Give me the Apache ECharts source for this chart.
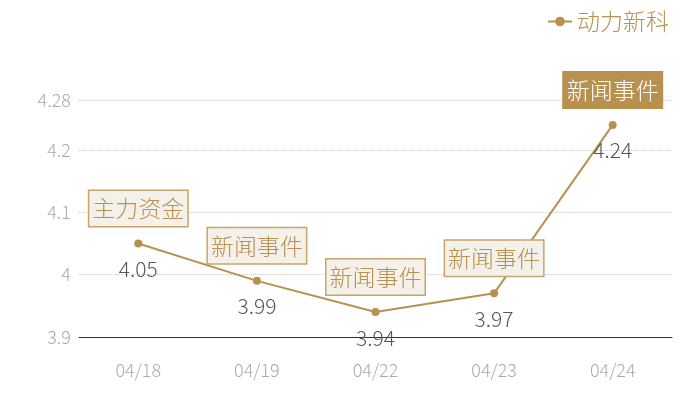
<!DOCTYPE html>
<html>
<head>
<meta charset="utf-8">
<script src="https://cdn.jsdelivr.net/npm/echarts@6/dist/echarts.min.js"></script>
<style>
    html, body { margin: 0; padding: 0; background: #fff; }
    #chart { width: 700px; height: 400px; }
</style>
</head>
<body>
<div id="chart"></div>
<script>
    var dates = ['04/18', '04/19', '04/22', '04/23', '04/24'];
    var prices = [4.05, 3.99, 3.94, 3.97, 4.24];
    var events = ['主力资金', '新闻事件', '新闻事件', '新闻事件', '新闻事件'];

    var gold = '#b8914f';
    var font = 'Noto Sans CJK SC';

    var markData = events.map(function(name, i) {
        var item = {
            name: name,
            coord: [i, prices[i]]
        };
        if (i === events.length - 1) {
            item.label = {
                color: '#fff',
                backgroundColor: gold,
                borderColor: gold
            };
        }
        return item;
    });

    var chart = echarts.init(document.getElementById('chart'));
    chart.setOption({
        animation: false,
        textStyle: { fontFamily: font, fontWeight: 300 },
        legend: {
            data: ['动力新科'],
            right: 26,
            top: 5,
            itemWidth: 24,
            itemHeight: 12,
            itemGap: 8,
            textStyle: { color: gold, fontSize: 23, fontFamily: font, fontWeight: 300 }
        },
        grid: {
            left: 79,
            right: 28,
            top: 100,
            bottom: 63
        },
        xAxis: {
            type: 'category',
            data: dates,
            boundaryGap: true,
            axisLine: { lineStyle: { color: '#333', width: 1 } },
            axisTick: { show: false },
            axisLabel: { color: '#aaa', fontSize: 18, margin: 24, fontFamily: font, fontWeight: 300 }
        },
        yAxis: {
            type: 'value',
            min: 3.9,
            max: 4.28,
            interval: 0.1,
            axisLine: { show: false },
            axisTick: { show: false },
            axisLabel: { color: '#aaa', fontSize: 18, margin: 8, fontFamily: font, fontWeight: 300 },
            splitLine: { lineStyle: { color: '#ccc', type: 'dotted' } }
        },
        series: [{
            name: '动力新科',
            type: 'line',
            data: prices,
            symbol: 'circle',
            symbolSize: 8,
            itemStyle: { color: gold },
            lineStyle: { color: gold, width: 2 },
            label: {
                show: true,
                position: 'bottom',
                distance: 11,
                color: '#555',
                fontSize: 21,
                fontFamily: font,
                fontWeight: 300
            },
            markPoint: {
                symbol: 'rect',
                symbolSize: 1,
                itemStyle: { color: 'transparent' },
                label: {
                    show: true,
                    formatter: '{b}',
                    offset: [0, -35],
                    color: gold,
                    fontSize: 23,
                    fontFamily: font,
                    fontWeight: 300,
                    lineHeight: 30,
                    backgroundColor: '#f4f0ea',
                    borderColor: '#c9a46a',
                    borderWidth: 1.5,
                    padding: [3, 3, 2, 3]
                },
                data: markData
            }
        }]
    });
</script>
</body>
</html>
